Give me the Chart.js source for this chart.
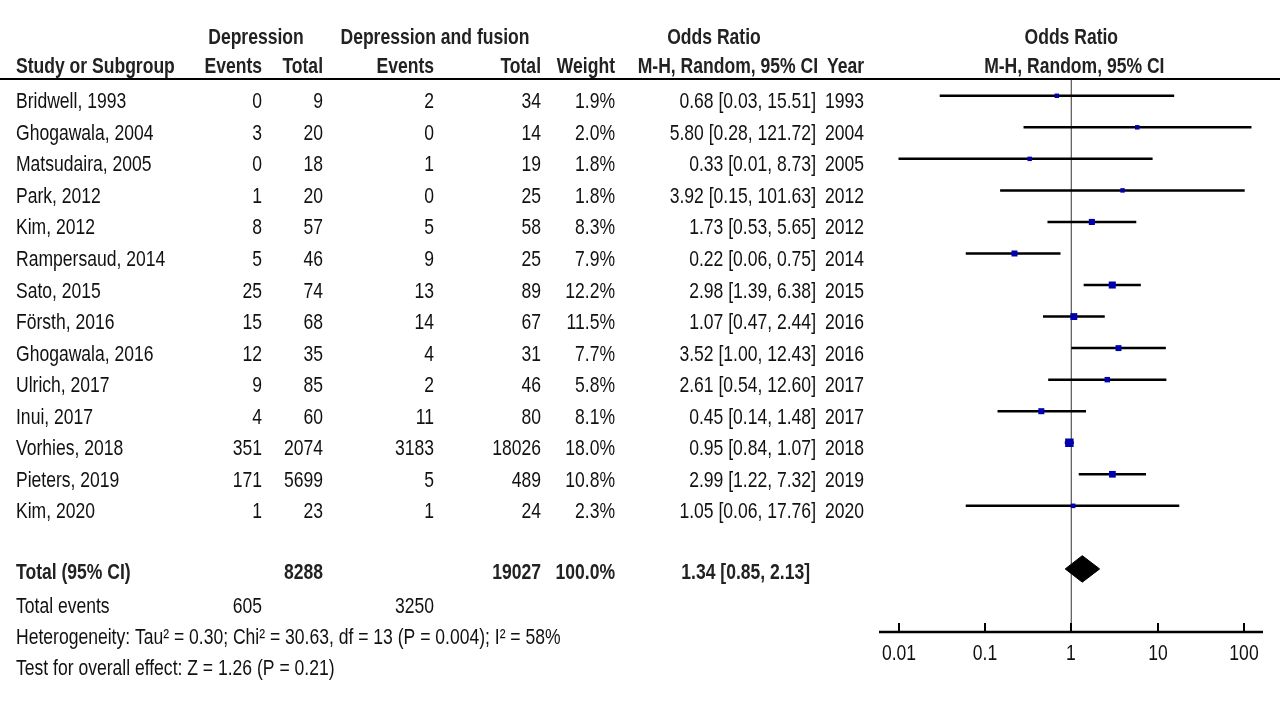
<!DOCTYPE html>
<html>
<head>
<meta charset="utf-8">
<script src="https://cdn.jsdelivr.net/npm/chart.js@4.4.0/dist/chart.umd.min.js"></script>
<style>
  html, body { margin: 0; padding: 0; background: #fff; overflow: hidden; }
</style>
</head>
<body>
<canvas id="forest" width="1280" height="720"></canvas>
<script>
// data
const studies = ['Bridwell, 1993', 'Ghogawala, 2004', 'Matsudaira, 2005', 'Park, 2012', 'Kim, 2012',
  'Rampersaud, 2014', 'Sato, 2015', 'Försth, 2016', 'Ghogawala, 2016', 'Ulrich, 2017',
  'Inui, 2017', 'Vorhies, 2018', 'Pieters, 2019', 'Kim, 2020'];
const years = [1993, 2004, 2005, 2012, 2012, 2014, 2015, 2016, 2016, 2017, 2017, 2018, 2019, 2020];
const depEvents = [0, 3, 0, 1, 8, 5, 25, 15, 12, 9, 4, 351, 171, 1];
const depTotal = [9, 20, 18, 20, 57, 46, 74, 68, 35, 85, 60, 2074, 5699, 23];
const fusEvents = [2, 0, 1, 0, 5, 9, 13, 14, 4, 2, 11, 3183, 5, 1];
const fusTotal = [34, 14, 19, 25, 58, 25, 89, 67, 31, 46, 80, 18026, 489, 24];
const weights = [1.9, 2.0, 1.8, 1.8, 8.3, 7.9, 12.2, 11.5, 7.7, 5.8, 8.1, 18.0, 10.8, 2.3];
const oddsRatio = [0.68, 5.80, 0.33, 3.92, 1.73, 0.22, 2.98, 1.07, 3.52, 2.61, 0.45, 0.95, 2.99, 1.05];
const ciLow = [0.03, 0.28, 0.01, 0.15, 0.53, 0.06, 1.39, 0.47, 1.00, 0.54, 0.14, 0.84, 1.22, 0.06];
const ciHigh = [15.51, 121.72, 8.73, 101.63, 5.65, 0.75, 6.38, 2.44, 12.43, 12.60, 1.48, 1.07, 7.32, 17.76];

const totalOR = 1.34, totalLow = 0.85, totalHigh = 2.13;
const totalDep = 8288, totalFus = 19027, totalWeight = 100.0;
const eventsDep = 605, eventsFus = 3250;
const heterogeneityText = 'Heterogeneity: Tau² = 0.30; Chi² = 30.63, df = 13 (P = 0.004); I² = 58%';
const overallText = 'Test for overall effect: Z = 1.26 (P = 0.21)';
const axisTicks = [0.01, 0.1, 1, 10, 100];

const totalRow = studies.length + 1;

// narrow font, fall back to squeezing the regular one
let fontFamily = '"Liberation Sans Narrow"';
let squeeze = 1;
(function () {
  const c = document.createElement('canvas').getContext('2d');
  c.font = '22px "Liberation Sans Narrow", "Liberation Sans"';
  const w1 = c.measureText('Bridwell, 1993').width;
  c.font = '22px "Liberation Sans"';
  const w2 = c.measureText('Bridwell, 1993').width;
  if (w1 > w2 * 0.92) { fontFamily = '"Liberation Sans"'; squeeze = 0.82; }
})();

function txt(ctx, s, x, y, align, bold) {
  ctx.save();
  ctx.font = (bold ? 'bold ' : '') + '21.4px ' + fontFamily;
  ctx.fillStyle = bold ? '#222' : '#111';
  ctx.textAlign = align;
  ctx.textBaseline = 'alphabetic';
  ctx.translate(x, y);
  ctx.scale(squeeze, 1);
  ctx.fillText(s, 0, 0);
  ctx.restore();
}

const fmt = v => v.toFixed(2);

const tablePlugin = {
  id: 'forestTable',
  afterDraw(chart) {
    const ctx = chart.ctx;
    const xs = chart.scales.x, ys = chart.scales.y;
    const area = chart.chartArea;

    // header rule
    ctx.save();
    ctx.strokeStyle = '#000';
    ctx.lineWidth = 2;
    ctx.beginPath();
    ctx.moveTo(0, area.top - 1);
    ctx.lineTo(1280, area.top - 1);
    ctx.stroke();
    ctx.restore();

    // headers
    txt(ctx, 'Depression', 256, 44, 'center', true);
    txt(ctx, 'Depression and fusion', 435, 44, 'center', true);
    txt(ctx, 'Odds Ratio', 714, 44, 'center', true);
    txt(ctx, 'Odds Ratio', xs.getPixelForValue(1), 44, 'center', true);
    txt(ctx, 'Study or Subgroup', 16, 73, 'left', true);
    txt(ctx, 'Events', 262, 73, 'right', true);
    txt(ctx, 'Total', 323, 73, 'right', true);
    txt(ctx, 'Events', 434, 73, 'right', true);
    txt(ctx, 'Total', 541, 73, 'right', true);
    txt(ctx, 'Weight', 615, 73, 'right', true);
    txt(ctx, 'M-H, Random, 95% CI', 818, 73, 'right', true);
    txt(ctx, 'Year', 864, 73, 'right', true);
    txt(ctx, 'M-H, Random, 95% CI', xs.getPixelForValue(1) + 3, 73, 'center', true);

    // study rows
    studies.forEach((name, i) => {
      const y = ys.getPixelForValue(i) + 12.5;
      txt(ctx, name, 16, y, 'left');
      txt(ctx, String(depEvents[i]), 262, y, 'right');
      txt(ctx, String(depTotal[i]), 323, y, 'right');
      txt(ctx, String(fusEvents[i]), 434, y, 'right');
      txt(ctx, String(fusTotal[i]), 541, y, 'right');
      txt(ctx, weights[i].toFixed(1) + '%', 615, y, 'right');
      txt(ctx, fmt(oddsRatio[i]) + ' [' + fmt(ciLow[i]) + ', ' + fmt(ciHigh[i]) + ']', 816, y, 'right');
      txt(ctx, String(years[i]), 864, y, 'right');
    });

    // totals
    const yt = ys.getPixelForValue(totalRow) + 10;
    txt(ctx, 'Total (95% CI)', 16, yt, 'left', true);
    txt(ctx, String(totalDep), 323, yt, 'right', true);
    txt(ctx, String(totalFus), 541, yt, 'right', true);
    txt(ctx, totalWeight.toFixed(1) + '%', 615, yt, 'right', true);
    txt(ctx, fmt(totalOR) + ' [' + fmt(totalLow) + ', ' + fmt(totalHigh) + ']', 810, yt, 'right', true);
    txt(ctx, 'Total events', 16, 613, 'left');
    txt(ctx, String(eventsDep), 262, 613, 'right');
    txt(ctx, String(eventsFus), 434, 613, 'right');
    txt(ctx, heterogeneityText, 16, 644, 'left');
    txt(ctx, overallText, 16, 675, 'left');

    // x axis, ticks pointing up
    ctx.save();
    ctx.strokeStyle = '#000';
    ctx.lineWidth = 2.5;
    ctx.beginPath();
    ctx.moveTo(area.left, area.bottom);
    ctx.lineTo(area.right, area.bottom);
    ctx.stroke();
    ctx.lineWidth = 2;
    axisTicks.forEach(t => {
      const px = Math.round(xs.getPixelForValue(t));
      ctx.beginPath();
      ctx.moveTo(px, area.bottom - 9);
      ctx.lineTo(px, area.bottom);
      ctx.stroke();
      txt(ctx, String(t), px, area.bottom + 28, 'center');
    });
    ctx.restore();
  }
};

// CI segments separated by gaps
const ciData = [];
studies.forEach((s, i) => {
  ciData.push({ x: ciLow[i], y: i }, { x: ciHigh[i], y: i }, { x: null, y: null });
});

const diamondHalf = 0.42;

// datasets listed first are drawn on top
const chart = new Chart(document.getElementById('forest'), {
  type: 'scatter',
  data: {
    datasets: [
      {
        data: oddsRatio.map((v, i) => ({ x: v, y: i })),
        pointStyle: 'rect',
        pointRadius: ctx => (4 + 0.25 * weights[ctx.dataIndex]) / 1.414,
        backgroundColor: '#0000b0',
        borderWidth: 0
      },
      {
        type: 'line',
        data: [{ x: totalLow, y: totalRow }, { x: totalOR, y: totalRow - diamondHalf }, { x: totalHigh, y: totalRow }],
        borderColor: '#000',
        borderWidth: 1,
        backgroundColor: '#000',
        pointRadius: 0,
        tension: 0,
        fill: '+1'
      },
      {
        type: 'line',
        data: [{ x: totalLow, y: totalRow }, { x: totalOR, y: totalRow + diamondHalf }, { x: totalHigh, y: totalRow }],
        borderColor: '#000',
        borderWidth: 1,
        pointRadius: 0,
        tension: 0,
        fill: false
      },
      {
        type: 'line',
        data: ciData,
        borderColor: '#000',
        borderWidth: 2.5,
        pointRadius: 0,
        spanGaps: false
      },
      {
        type: 'line',
        data: [{ x: 1, y: -0.5 }, { x: 1, y: 17 }],
        borderColor: '#555',
        borderWidth: 1.2,
        pointRadius: 0
      }
    ]
  },
  options: {
    responsive: false,
    animation: false,
    layout: { padding: { left: 879, right: 17, top: 80, bottom: 88 } },
    plugins: { legend: { display: false }, tooltip: { enabled: false } },
    scales: {
      x: { type: 'logarithmic', min: 0.005947, max: 165.5, display: false },
      y: { type: 'linear', reverse: true, min: -0.5, max: 17, display: false }
    }
  },
  plugins: [tablePlugin]
});
</script>
</body>
</html>
